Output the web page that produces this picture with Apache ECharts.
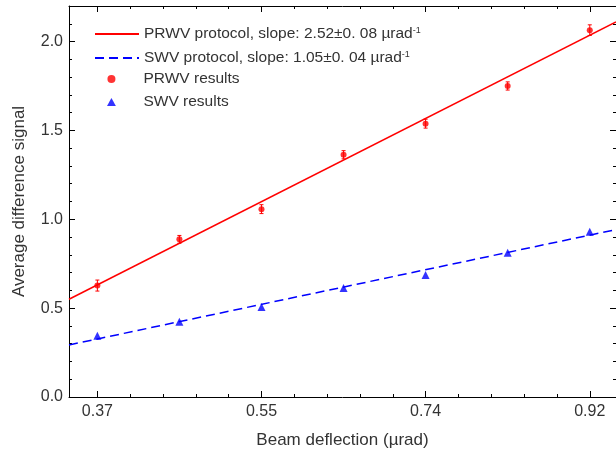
<!DOCTYPE html>
<html><head><meta charset="utf-8">
<script src="https://cdn.jsdelivr.net/npm/echarts@6/dist/echarts.min.js"></script>
<style>html,body{margin:0;padding:0;background:#fff}#c{width:616px;height:456px}</style>
</head><body><div id="c"></div>
<script>
// ---- data ----
const xValues = [0.3667, 0.4583, 0.55, 0.6417, 0.7333, 0.825, 0.9167];
const prwvValues = [0.627, 0.887, 1.057, 1.363, 1.538, 1.750, 2.064];
const prwvErrors = [0.031, 0.022, 0.025, 0.023, 0.025, 0.023, 0.030];
const swvValues = [0.344, 0.423, 0.507, 0.614, 0.687, 0.811, 0.930];
const fitX = [0.335, 0.946];
const prwvFit = [0.550, 2.110];
const swvFit = [0.293, 0.942];
const xTickValues = [0.3667, 0.55, 0.7333, 0.9167];
const xTickLabels = ['0.37', '0.55', '0.74', '0.92'];
const yTickValues = [0, 0.5, 1.0, 1.5, 2.0];
const yTickLabels = ['0.0', '0.5', '1.0', '1.5', '2.0'];
const legendNames = ['PRWV protocol', 'SWV protocol', 'PRWV results', 'SWV results'];
const legendSlopes = ['2.52\u00b10. 08', '1.05\u00b10. 04'];

// minor tick positions
const xMin = 0.335, xMax = 0.946, yMin = 0, yMax = 2.2;
const xStepMinor = (xTickValues[1] - xTickValues[0]) / 5;
const xMinor = [];
for (let k = -5; k <= 20; k++) {
  const v = +(xTickValues[0] + k * xStepMinor).toFixed(5);
  if (v > xMin && v < xMax && k % 5 !== 0) xMinor.push(v);
}
const yMinor = [];
for (let k = 1; k < 22; k++) { if (k % 5 !== 0) yMinor.push(+(k * 0.1).toFixed(2)); }

const RED = '#ff0000', BLUE = '#0000ff', TXT = '#333333';
const FONT = 'Liberation Sans, Arial, sans-serif';
const TRI_ICON = 'path://M0,9L5,0L10,9Z';

const fmtX = v => { let b = 0; xTickValues.forEach((t, i) => { if (Math.abs(t - v) < Math.abs(xTickValues[b] - v)) b = i; }); return xTickLabels[b]; };
const fmtY = v => { let b = 0; yTickValues.forEach((t, i) => { if (Math.abs(t - v) < Math.abs(yTickValues[b] - v)) b = i; }); return yTickLabels[b]; };

function xAxisCfg(pos, major) {
  return {
    type: 'value', position: pos, min: xMin, max: xMax,
    axisLine: { show: major, onZero: false, lineStyle: { color: '#000', width: 1 } },
    axisTick: { show: true, inside: true, length: major ? 6 : 3, customValues: major ? xTickValues : xMinor, lineStyle: { color: '#000', width: 1 } },
    axisLabel: (major && pos === 'bottom') ? { show: true, customValues: xTickValues, formatter: fmtX, margin: 7, fontSize: 16, color: TXT, fontFamily: FONT } : { show: false },
    splitLine: { show: false },
    name: (major && pos === 'bottom') ? 'Beam deflection (\u00b5rad)' : '',
    nameLocation: 'middle', nameGap: 35,
    nameTextStyle: { fontSize: 17, color: TXT, fontFamily: FONT }
  };
}
function yAxisCfg(pos, major) {
  return {
    type: 'value', position: pos, min: yMin, max: yMax,
    axisLine: { show: major, onZero: false, lineStyle: { color: '#000', width: 1 } },
    axisTick: { show: true, inside: true, length: major ? 6 : 3, customValues: major ? yTickValues : yMinor, lineStyle: { color: '#000', width: 1 } },
    axisLabel: (major && pos === 'left') ? { show: true, customValues: yTickValues, formatter: fmtY, margin: 6, fontSize: 16, color: TXT, fontFamily: FONT } : { show: false },
    splitLine: { show: false },
    name: (major && pos === 'left') ? 'Average difference signal' : '',
    nameLocation: 'middle', nameGap: 41,
    nameTextStyle: { fontSize: 17, color: TXT, fontFamily: FONT }
  };
}

const lineName1 = legendNames[0] + ', slope: ' + legendSlopes[0] + ' \u00b5rad';
const lineName2 = legendNames[1] + ', slope: ' + legendSlopes[1] + ' \u00b5rad';

const chart = echarts.init(document.getElementById('c'), null, { renderer: 'canvas' });
chart.setOption({
  animation: false,
  backgroundColor: '#fff',
  grid: { left: 69, right: 0, top: 6, bottom: 59, containLabel: false },
  xAxis: [xAxisCfg('bottom', true), xAxisCfg('bottom', false), xAxisCfg('top', true), xAxisCfg('top', false)],
  yAxis: [yAxisCfg('left', true), yAxisCfg('left', false), yAxisCfg('right', true), yAxisCfg('right', false)],
  legend: [
    {
      data: [lineName1, lineName2], orient: 'vertical', left: 89, top: 21,
      itemWidth: 44, itemHeight: 14, itemGap: 8,
      itemStyle: { color: 'rgba(0,0,0,0)', borderColor: 'rgba(0,0,0,0)', borderWidth: 0, opacity: 0 },
      formatter: n => '{t|' + n + '}{s|-1}',
      textStyle: { color: TXT, fontSize: 15.5, fontFamily: FONT,
        rich: { t: { fontSize: 15.5, color: TXT, fontFamily: FONT }, s: { fontSize: 9, color: TXT, fontFamily: FONT, verticalAlign: 'top', padding: [0, 0, 6, 0] } } }
    },
    {
      data: [{ name: legendNames[2], icon: 'circle' }, { name: legendNames[3], icon: TRI_ICON }],
      orient: 'vertical', left: 102, top: 66,
      itemWidth: 44, itemHeight: 8, itemGap: 7, symbolKeepAspect: true,
      textStyle: { color: TXT, fontSize: 15.5, fontFamily: FONT, padding: [0, 0, 0, 5] }
    }
  ],
  series: [
    { name: lineName1, type: 'line', data: fitX.map((x, i) => [x, prwvFit[i]]), symbol: 'none', lineStyle: { color: RED, width: 1.5 }, itemStyle: { color: RED }, z: 2 },
    { name: lineName2, type: 'line', data: fitX.map((x, i) => [x, swvFit[i]]), symbol: 'none', lineStyle: { color: BLUE, width: 1.5, type: [9, 5] }, itemStyle: { color: BLUE }, z: 2 },
    {
      name: 'prwv-err', type: 'custom', z: 3,
      data: xValues.map((x, i) => [x, prwvValues[i], prwvErrors[i]]),
      renderItem: (params, api) => {
        const x = api.value(0), y = api.value(1), e = api.value(2);
        const t = api.coord([x, y + e]), b = api.coord([x, y - e]);
        const st = { stroke: RED, lineWidth: 1 };
        return { type: 'group', children: [
          { type: 'line', shape: { x1: t[0], y1: t[1], x2: b[0], y2: b[1] }, style: st },
          { type: 'line', shape: { x1: t[0] - 2, y1: t[1], x2: t[0] + 2, y2: t[1] }, style: st },
          { type: 'line', shape: { x1: b[0] - 2, y1: b[1], x2: b[0] + 2, y2: b[1] }, style: st }
        ] };
      }
    },
    { name: legendNames[2], type: 'scatter', data: xValues.map((x, i) => [x, prwvValues[i]]), symbol: 'circle', symbolSize: 6, itemStyle: { color: RED }, z: 4 },
    { name: legendNames[3], type: 'scatter', data: xValues.map((x, i) => [x, swvValues[i]]), symbol: 'triangle', symbolSize: 8, itemStyle: { color: BLUE }, z: 4 }
  ]
});
</script></body></html>
